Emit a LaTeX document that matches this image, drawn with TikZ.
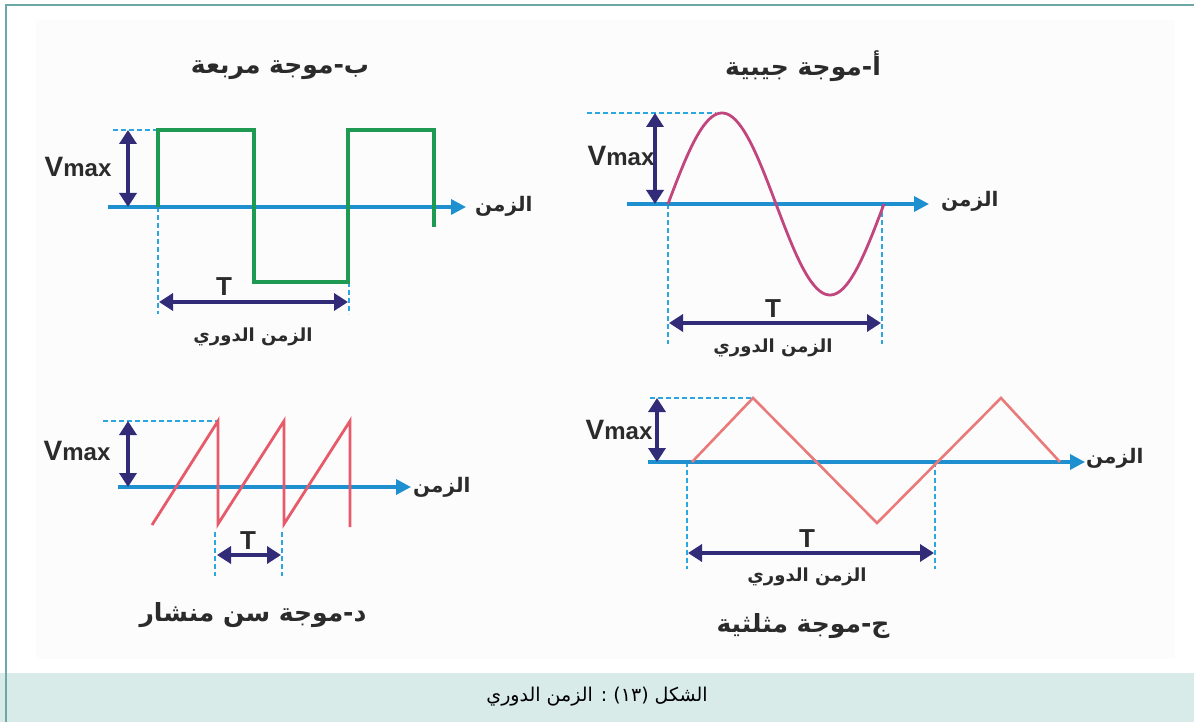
\documentclass[tikz,border=0pt]{standalone}
\usepackage{fontspec}
\setmainfont{Liberation Sans}
\newfontfamily\arabicfont[Script=Arabic]{DejaVu Sans}
\TeXXeTstate=1
\usetikzlibrary{arrows.meta}
\definecolor{frameteal}{HTML}{6AA9A6}
\definecolor{bandteal}{HTML}{D8EBE8}
\definecolor{paperwhite}{HTML}{FCFCFC}
\definecolor{axisblue}{HTML}{1E90D0}
\definecolor{dashblue}{HTML}{2AA6E0}
\definecolor{arrowind}{HTML}{322C78}
\definecolor{sqgreen}{HTML}{1E9A52}
\definecolor{sinpink}{HTML}{C2457E}
\definecolor{tripink}{HTML}{EA7A7A}
\definecolor{sawred}{HTML}{E65A6A}
\definecolor{txtgray}{HTML}{2B2B2B}
\newcommand\arbf[1]{\arabicfont\bfseries\fontsize{#1}{#1}\selectfont}
\newcommand\vmaxtxt{{\bfseries\fontsize{28}{28}\selectfont V\fontsize{24}{24}\selectfont max}}
\newcommand\bigT{{\bfseries\fontsize{26}{26}\selectfont T}}
\tikzset{
  axisline/.style={draw=axisblue, line width=3.4, -{Triangle[length=15,width=15]}},
  guide/.style={draw=dashblue, line width=2.6, dash pattern=on 5 off 3},
  dimarrow/.style={draw=arrowind, line width=3.4, {Triangle[length=14,width=17]}-{Triangle[length=14,width=17]}},
  wave/.style={line width=3.2, line join=miter},
  lbl/.style={inner sep=0, text=txtgray},
}
\begin{document}
\begin{tikzpicture}[x=1pt,y=-1pt]
\useasboundingbox (0,0) rectangle (1194,722);
\fill[white] (0,0) rectangle (1194,722);
\fill[paperwhite] (36,20) rectangle (1175,659);
\fill[bandteal] (0,673) rectangle (1194,722);
\draw[frameteal, line width=2.4] (6,722) -- (6,5) -- (1194,5);

% ---------- (b) square wave ----------
\node[lbl] (sqtitle) at (280,70) {\arbf{25}\beginR ب-موجة مربعة\endR};
\coordinate (sqax0) at (108,207);
\coordinate (sqax1) at (466,207);
\draw[guide] (113,130) -- (158,130);
\draw[guide] (158,207) -- (158,314);
\draw[guide] (349,282) -- (349,314);
\draw[axisline] (sqax0) -- (sqax1);
\draw[wave, sqgreen] (158,207) -- (158,130) -- (254,130) -- (254,282) -- (348,282) -- (348,130) -- (434,130) -- (434,227);
\coordinate (sqv0) at (128,130);
\coordinate (sqv1) at (128,207);
\draw[dimarrow] (sqv0) -- (sqv1);
\node[lbl] (sqvmax) at (78,167) {\vmaxtxt};
\node[lbl, anchor=west] (sqtime) at (475,206) {\arbf{20}\beginR الزمن\endR};
\coordinate (sqt0) at (159,302);
\coordinate (sqt1) at (348,302);
\draw[dimarrow] (sqt0) -- (sqt1);
\node[lbl] (sqT) at (224,287) {\bigT};
\node[lbl] (sqper) at (253,337) {\arbf{18}\beginR الزمن الدوري\endR};

% ---------- (a) sine wave ----------
\node[lbl] (sintitle) at (803,66) {\arbf{25}\beginR أ-موجة جيبية\endR};
\coordinate (sinax0) at (627,204);
\coordinate (sinax1) at (929,204);
\draw[guide] (587,113) -- (716,113);
\draw[guide] (668,204) -- (668,344);
\draw[guide] (882,204) -- (882,344);
\draw[axisline] (sinax0) -- (sinax1);
\draw[wave, sinpink, line width=2.8] plot[domain=0:360, samples=120, smooth] ({668+0.6*\x},{204-91*sin(\x)});
\coordinate (sinv0) at (655,113);
\coordinate (sinv1) at (655,204);
\draw[dimarrow] (sinv0) -- (sinv1);
\node[lbl] (sinvmax) at (621,156) {\vmaxtxt};
\node[lbl, anchor=west] (sintime) at (941,201) {\arbf{20}\beginR الزمن\endR};
\coordinate (sint0) at (669,323);
\coordinate (sint1) at (881,323);
\draw[dimarrow] (sint0) -- (sint1);
\node[lbl] (sinT) at (773,309) {\bigT};
\node[lbl] (sinper) at (773,348) {\arbf{18}\beginR الزمن الدوري\endR};

% ---------- (d) sawtooth wave ----------
\coordinate (swax0) at (118,487);
\coordinate (swax1) at (411,487);
\draw[guide] (103,421) -- (218,421);
\draw[guide] (215,532) -- (215,576);
\draw[guide] (282,532) -- (282,576);
\draw[axisline] (swax0) -- (swax1);
\draw[wave, sawred, line width=2.8] (152,525) -- (218,421) -- (218,524) -- (284,421) -- (284,524) -- (350,421) -- (350,527);
\coordinate (swv0) at (128,421);
\coordinate (swv1) at (128,487);
\draw[dimarrow] (swv0) -- (swv1);
\node[lbl] (swvmax) at (77,451) {\vmaxtxt};
\node[lbl, anchor=west] (swtime) at (413,487) {\arbf{20}\beginR الزمن\endR};
\coordinate (swt0) at (217,555);
\coordinate (swt1) at (281,555);
\draw[dimarrow] (swt0) -- (swt1);
\node[lbl] (swT) at (248,541) {\bigT};
\node[lbl] (swtitle) at (253,615) {\arbf{25}\beginR د-موجة سن منشار\endR};

% ---------- (c) triangle wave ----------
\coordinate (trax0) at (648,462);
\coordinate (trax1) at (1085,462);
\draw[guide] (650,398) -- (753,398);
\draw[guide] (687,462) -- (687,569);
\draw[guide] (935,462) -- (935,569);
\draw[axisline] (trax0) -- (trax1);
\draw[wave, tripink, line width=2.6] (692,462) -- (753,398) -- (877,523) -- (1001,398) -- (1060,462);
\coordinate (trv0) at (657,398);
\coordinate (trv1) at (657,462);
\draw[dimarrow] (trv0) -- (trv1);
\node[lbl] (trvmax) at (619,430) {\vmaxtxt};
\node[lbl, anchor=west] (trtime) at (1086,458) {\arbf{20}\beginR الزمن\endR};
\coordinate (trt0) at (688,553);
\coordinate (trt1) at (934,553);
\draw[dimarrow] (trt0) -- (trt1);
\node[lbl] (trT) at (807,539) {\bigT};
\node[lbl] (trper) at (807,577) {\arbf{18}\beginR الزمن الدوري\endR};
\node[lbl] (trtitle) at (803,626) {\arbf{25}\beginR ج-موجة مثلثية\endR};

% ---------- caption ----------
\node[inner sep=0, text=black] (caption) at (597,697) {\arabicfont\fontsize{19}{19}\selectfont\beginR الشكل (١٣) : الزمن الدوري\endR};
\end{tikzpicture}
\end{document}
